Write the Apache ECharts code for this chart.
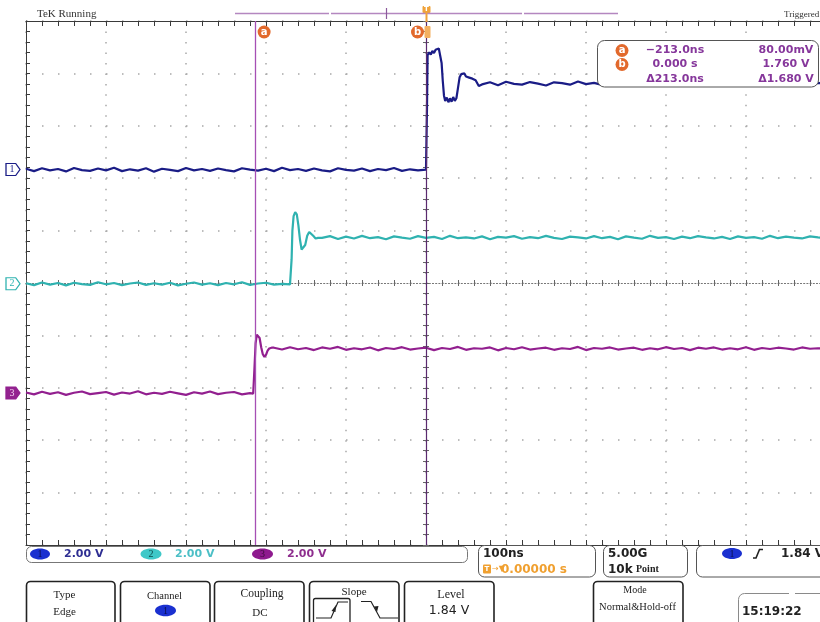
<!DOCTYPE html>
<html><head><meta charset="utf-8">
<script src="https://cdn.jsdelivr.net/npm/echarts@6/dist/echarts.min.js"></script>
<style>html,body{margin:0;padding:0;background:#fff}#c{width:820px;height:622px}</style>
</head><body><div id="c"></div>
<script>
// ---- scales (oscilloscope settings) ----
const SAMPLE_NS = 10;              // spacing of the sampled level segments
const timeMin = -500, timeMax = 500, timeDiv = 100;   // 100 ns/div
const voltMin = -10, voltMax = 10, voltDiv = 2;       // 2.00 V/div
const channelNames = ['1', '2', '3'];
const channelColors = ['#1a1c86', '#2fb2b0', '#921f8f'];
const groundLevels = [4.33, -0.03, -4.2];
const cursorTimes = [-213, 0];
const cursorLabels = ['a', 'b'];

// ---- channel 1 ----
const ch1PreStart = -500;
const ch1PreV = [4.36,4.27,4.38,4.30,4.35,4.26,4.39,4.31,4.28,4.37,
4.30,4.40,4.27,4.34,4.29,4.38,4.25,4.36,4.32,4.27,
4.39,4.30,4.35,4.28,4.37,4.31,4.26,4.38,4.33,4.29,
4.36,4.27,4.40,4.31,4.35,4.28,4.37,4.30,4.26,4.38,
4.32,4.29,4.37,4.27,4.35,4.31,4.39,4.28,4.34,4.30,4.33];
const ch1Edge = [[0.5,4.34],[1.2,6.6],[2,8.7],[4,8.8],[6,8.72],[8,8.86],[10,8.78],[12,8.9],[14,8.84],[16,8.95],[18,8.88],[19.5,8.4],[21,7.7],[22.5,7.15],[24,6.95],[26,7.08],[28,6.9],[30,7.05],[32,6.92],[34,7.1],[36,6.95],[38,7.05],[40,7.45],[42,7.85],[44,7.97],[46,7.92],[48,8.0],[50,7.88],[52,7.95],[54,7.84],[56,7.9],[58,7.8],[60,7.84],[62,7.74],[64,7.68],[66,7.52],[68,7.5]];
const ch1PostStart = 70;
const ch1PostV = [7.58,7.66,7.55,7.68,7.60,7.57,7.67,7.61,7.54,7.66,
7.63,7.57,7.69,7.59,7.64,7.56,7.67,7.60,7.58,7.68,
7.61,7.55,7.66,7.62,7.57,7.69,7.60,7.64,7.56,7.67,
7.59,7.63,7.55,7.66,7.61,7.58,7.68,7.60,7.57,7.65,
7.62,7.58,7.64,7.60];

// ---- channel 2 ----
const ch2PreStart = -500;
const ch2PreV = [-0.01,-0.08,0.02,-0.06,0.00,-0.09,0.01,-0.04,-0.07,0.03,
-0.05,0.00,-0.08,-0.02,0.02,-0.07,-0.01,-0.06,0.01,-0.09,
-0.03,0.02,-0.06,-0.01,-0.08,0.00,-0.05,0.03,-0.07,-0.02,
0.01,-0.06,-0.03,-0.05];
const ch2Edge = [[-169,-0.04],[-168,0.9],[-167,2.0],[-165.5,2.55],[-163.5,2.7],[-161.5,2.62],[-159.5,2.2],[-157.5,1.65],[-155.5,1.28],[-153.5,1.25],[-151,1.45],[-148.5,1.8],[-146,1.95],[-143.5,1.93],[-141,1.8],[-138,1.7],[-135,1.72],[-133,1.76]];
const ch2PostStart = -130;
const ch2PostV = [1.72,1.79,1.68,1.77,1.70,1.80,1.71,1.75,1.67,1.78,
1.73,1.69,1.79,1.72,1.76,1.68,1.80,1.71,1.74,1.70,
1.78,1.67,1.76,1.73,1.79,1.69,1.75,1.71,1.80,1.72,
1.68,1.77,1.74,1.70,1.79,1.71,1.76,1.67,1.78,1.73,
1.69,1.80,1.72,1.75,1.68,1.77,1.71,1.79,1.74,1.70,
1.76,1.68,1.78,1.72,1.75,1.69,1.80,1.71,1.77,1.73,
1.70,1.78,1.74,1.72];

// ---- channel 3 ----
const ch3PreStart = -500;
const ch3PreV = [-4.18,-4.25,-4.15,-4.23,-4.17,-4.27,-4.19,-4.14,-4.24,-4.20,
-4.16,-4.26,-4.18,-4.22,-4.13,-4.25,-4.19,-4.23,-4.15,-4.21,
-4.27,-4.17,-4.22,-4.14,-4.24,-4.19,-4.16,-4.25,-4.20];
const ch3Edge = [[-216,-4.22],[-214.5,-3.3],[-213,-2.3],[-211.5,-1.97],[-210,-1.92],[-208,-2.1],[-206,-2.45],[-204,-2.72],[-202,-2.82],[-200,-2.74],[-198,-2.58],[-196,-2.5],[-193,-2.47]];
const ch3PostStart = -190;
const ch3PostV = [-2.47,-2.54,-2.45,-2.53,-2.48,-2.56,-2.46,-2.51,-2.44,-2.55,
-2.49,-2.53,-2.46,-2.57,-2.48,-2.52,-2.45,-2.54,-2.50,-2.47,
-2.56,-2.48,-2.52,-2.44,-2.55,-2.49,-2.51,-2.46,-2.57,-2.48,
-2.53,-2.45,-2.54,-2.50,-2.47,-2.55,-2.49,-2.52,-2.44,-2.56,
-2.48,-2.51,-2.46,-2.54,-2.50,-2.47,-2.55,-2.49,-2.53,-2.45,
-2.52,-2.48,-2.56,-2.47,-2.51,-2.46,-2.54,-2.49,-2.53,-2.45,
-2.55,-2.48,-2.52,-2.47,-2.50,-2.54,-2.46,-2.51,-2.49,-2.52];

function sampled(start, vals) { return vals.map((v, i) => [start + i * SAMPLE_NS, v]); }
const traces = [
  sampled(ch1PreStart, ch1PreV).concat(ch1Edge, sampled(ch1PostStart, ch1PostV)),
  sampled(ch2PreStart, ch2PreV).concat(ch2Edge, sampled(ch2PostStart, ch2PostV)),
  sampled(ch3PreStart, ch3PreV).concat(ch3Edge, sampled(ch3PostStart, ch3PostV))
];

// ---- styles ----
const FRAME = '#3a3a3a', DOT = '#a8a8a8', ORANGE = '#e2692c', PURPLE_TXT = '#86379b';
const SERIF = '"Liberation Serif", "DejaVu Serif", serif';
const SANS = '"DejaVu Sans", Verdana, sans-serif';

function frameX(pos, split) {
  return {
    type: 'value', min: timeMin, max: timeMax, interval: timeDiv, position: pos,
    axisLine: { show: true, onZero: false, lineStyle: { color: FRAME, width: 1 } },
    axisTick: { show: true, inside: true, length: 5, lineStyle: { color: FRAME } },
    minorTick: { show: true, splitNumber: 5, length: 5, lineStyle: { color: FRAME } },
    axisLabel: { show: false },
    splitLine: { show: split, lineStyle: { color: DOT, width: 1.5, type: [1.5, 8.98] } },
    minorSplitLine: { show: false }
  };
}
function centerX(inside) {
  return {
    type: 'value', min: timeMin, max: timeMax, interval: timeDiv, position: 'bottom',
    axisLine: { show: inside, onZero: true, onZeroAxisIndex: 0, lineStyle: { color: '#777', width: 1, type: [1.2, 2] } },
    axisTick: { show: true, inside: inside, length: 3, lineStyle: { color: '#666' } },
    minorTick: { show: true, splitNumber: 5, length: 3, lineStyle: { color: '#666' } },
    axisLabel: { show: false }, splitLine: { show: false }
  };
}
function centerY(inside) {
  return {
    type: 'value', min: voltMin, max: voltMax, interval: voltDiv, position: 'left',
    axisLine: { show: inside, onZero: true, onZeroAxisIndex: 0, lineStyle: { color: '#777', width: 1, type: [1.2, 2] } },
    axisTick: { show: true, inside: inside, length: 3, lineStyle: { color: '#666' } },
    minorTick: { show: true, splitNumber: 5, length: 3, lineStyle: { color: '#666' } },
    axisLabel: { show: false }, splitLine: { show: false }
  };
}

const G = [];
function txt(x, y, text, font, fill, align) {
  G.push({ type: 'text', x: x, y: y, z: 100, silent: true,
    style: { text: text, font: font, fill: fill, align: align || 'left', verticalAlign: 'middle',
             textAlign: align || 'left', textVerticalAlign: 'middle' } });
}
function rect(x, y, w, h, r, stroke, fill, lw) {
  G.push({ type: 'rect', z: 99, silent: true, shape: { x: x, y: y, width: w, height: h, r: r },
    style: { fill: fill || 'none', stroke: stroke || 'none', lineWidth: lw || 1 } });
}
function ell(cx, cy, rx, ry, fill) {
  G.push({ type: 'ellipse', z: 100, silent: true, shape: { cx: cx, cy: cy, rx: rx, ry: ry }, style: { fill: fill } });
}
function circ(cx, cy, r, fill) {
  G.push({ type: 'circle', z: 100, silent: true, shape: { cx: cx, cy: cy, r: r }, style: { fill: fill } });
}
function pline(points, stroke, lw) {
  G.push({ type: 'polyline', z: 100, silent: true, shape: { points: points }, style: { stroke: stroke, fill: 'none', lineWidth: lw || 1 } });
}
function poly(points, fill) {
  G.push({ type: 'polygon', z: 100, silent: true, shape: { points: points }, style: { fill: fill } });
}

// header
txt(37, 14.5, 'TeK Running', '11px ' + SERIF, '#333');
txt(784, 15, 'Triggered', '9px ' + SERIF, '#333');
pline([[235, 13.5], [329, 13.5]], '#b487c0', 1.6);
pline([[331, 13.5], [522, 13.5]], '#b487c0', 1.6);
pline([[524, 13.5], [618, 13.5]], '#b487c0', 1.6);
pline([[386.5, 8], [386.5, 19]], '#8c5a9c', 1.2);
pline([[426.5, 8], [426.5, 22]], '#f0a33a', 2);
rect(422.5, 6, 8, 7, 1, null, '#f0a33a');
txt(426.5, 9.6, 'T', 'bold 7px ' + SANS, '#fff', 'center');
rect(424.5, 26, 6, 12, 1, null, '#f3b060');

// cursor readout box
rect(597.5, 40.5, 221, 46.5, 7, '#555', '#fff', 1);
circ(622, 50.5, 6.5, ORANGE); txt(622, 50.5, 'a', 'bold 10px ' + SANS, '#fff', 'center');
circ(622, 64.5, 6.5, ORANGE); txt(622, 64, 'b', 'bold 10px ' + SANS, '#fff', 'center');
const RF = 'bold 11px ' + SANS;
txt(675, 50.5, '\u2212213.0ns', RF, PURPLE_TXT, 'center');
txt(675, 64.5, '0.000 s', RF, PURPLE_TXT, 'center');
txt(675, 79.5, '\u0394213.0ns', RF, PURPLE_TXT, 'center');
txt(786, 50.5, '80.00mV', RF, PURPLE_TXT, 'center');
txt(786, 64.5, '1.760 V', RF, PURPLE_TXT, 'center');
txt(786, 79.5, '\u03941.680 V', RF, PURPLE_TXT, 'center');

// status row
const SF = 'bold 11px ' + SANS;
rect(26.5, 546.5, 441, 16, 5, '#777', '#fff', 1);
ell(40, 554, 10, 5.5, '#1a30d0'); txt(40, 554.5, '1', '10px ' + SERIF, '#0a1050', 'center');
txt(64, 554.5, '2.00 V', SF, '#2e2e92');
ell(151, 554, 10.5, 5.5, '#3ec8c8'); txt(151, 554.5, '2', '10px ' + SERIF, '#0c4a4a', 'center');
txt(175, 554.5, '2.00 V', SF, '#4cbfc6');
ell(262.5, 554, 10.5, 5.5, '#8e1a8e'); txt(262.5, 554.5, '3', '10px ' + SERIF, '#3a0a3a', 'center');
txt(287, 554.5, '2.00 V', SF, '#8e2e8e');

const BF = 'bold 12px ' + SANS;
rect(478.5, 545.5, 117, 31.5, 6, '#555', '#fff', 1);
txt(483, 553.5, '100ns', BF, '#222');
rect(483, 564.5, 8, 9, 1, null, '#f0a030');
txt(487, 569, 'T', 'bold 7px ' + SANS, '#fff', 'center');
txt(492, 569, '\u2192\u25BC', '8px ' + SANS, '#f0a030');
txt(501, 569.5, '0.00000 s', BF, '#f0a030');

rect(603.5, 545.5, 84, 31.5, 6, '#555', '#fff', 1);
txt(608, 553.5, '5.00G', BF, '#222');
txt(608, 569.5, '10k', BF, '#222');
txt(636, 569.5, 'Point', 'bold 10px ' + SERIF, '#222');

rect(696.5, 545.5, 130, 31.5, 6, '#555', '#fff', 1);
ell(732, 553.5, 10, 5.5, '#1a30d0'); txt(732, 554, '1', '10px ' + SERIF, '#0a1050', 'center');
pline([[753, 558], [756, 558], [759.5, 549.5], [763, 549.5]], '#222', 1.6);
txt(781, 553.5, '1.84 V', BF, '#222');

// menu row
const MB = '#222';
rect(26.5, 581.5, 88.5, 45, 4, MB, '#fff', 1.6);
txt(64.5, 595, 'Type', '11px ' + SERIF, '#222', 'center');
txt(64.5, 612, 'Edge', '11px ' + SERIF, '#222', 'center');
rect(120.5, 581.5, 89.5, 45, 4, MB, '#fff', 1.6);
txt(164.5, 596.5, 'Channel', '10.5px ' + SERIF, '#222', 'center');
ell(165.5, 610.5, 10.5, 5.8, '#1a30d0'); txt(165.5, 611, '1', '10px ' + SERIF, '#0a1050', 'center');
rect(214.5, 581.5, 89.5, 45, 4, MB, '#fff', 1.6);
txt(262, 593.5, 'Coupling', '11.5px ' + SERIF, '#222', 'center');
txt(260, 613, 'DC', '11px ' + SERIF, '#222', 'center');
rect(309.5, 581.5, 89.5, 45, 4, MB, '#fff', 1.6);
txt(354, 592, 'Slope', '11px ' + SERIF, '#222', 'center');
rect(313.5, 598.5, 36.5, 28, 2, MB, '#fff', 1.3);
pline([[316, 618], [331, 618], [338, 602], [348, 602]], '#222', 1.2);
poly([[336, 605], [331.5, 611], [335.5, 612]], '#222');
pline([[361, 601.5], [371, 601.5], [380, 618], [398, 618]], '#222', 1.2);
poly([[377, 612], [374, 606.5], [378.5, 606]], '#222');
rect(404.5, 581.5, 89.5, 45, 4, MB, '#fff', 1.6);
txt(451, 595, 'Level', '12px ' + SERIF, '#222', 'center');
txt(449, 610.5, '1.84 V', '12.5px ' + SANS, '#222', 'center');
rect(593.5, 581.5, 89.5, 45, 4, MB, '#fff', 1.6);
txt(635, 590, 'Mode', '10px ' + SERIF, '#222', 'center');
txt(637.5, 607.5, 'Normal&Hold-off', '10.5px ' + SERIF, '#222', 'center');
rect(738.5, 593.5, 90, 35, 6, '#8a8a8a', '#fff', 1);
rect(789, 592, 6, 3, 0, null, '#fff');
txt(742, 612, '15:19:22', BF, '#222');

const groundSymbol = 'path://M0,0 L9,0 L13,5 L9,10 L0,10 Z';
const markerFill = ['#ffffff', '#ffffff', '#93228f'];
const markerText = ['#1b1f8c', '#2fb4b2', '#f6d6f4'];

const series = traces.map((data, i) => ({
  type: 'line', name: 'CH' + channelNames[i], data: data, xAxisIndex: 0, yAxisIndex: 0,
  showSymbol: false, symbol: 'none', clip: true, z: 3, animation: false,
  lineStyle: { color: channelColors[i], width: 2.2 },
  markPoint: {
    silent: true, animation: false, symbol: groundSymbol, symbolSize: [14, 12], symbolOffset: [-13, 0],
    itemStyle: { color: markerFill[i], borderColor: channelColors[i], borderWidth: 1.2 },
    label: { show: true, formatter: channelNames[i], color: markerText[i], fontSize: 10, fontFamily: SERIF, offset: [-1, 0] },
    data: [{ coord: [timeMin, groundLevels[i]] }]
  }
}));
series.push({
  type: 'line', name: 'cursors', data: cursorTimes.map(t => [t, voltMax]), xAxisIndex: 0, yAxisIndex: 0,
  showSymbol: false, symbol: 'none', lineStyle: { opacity: 0 }, z: 4, animation: false,
  markLine: {
    silent: true, animation: false, symbol: ['none', 'none'], label: { show: false },
    data: [
      { xAxis: cursorTimes[0], lineStyle: { color: '#a64fb4', width: 1.3, type: 'solid' } },
      { xAxis: cursorTimes[1], lineStyle: { color: '#5a2a6e', width: 1.2, type: 'solid' } }
    ]
  },
  markPoint: {
    silent: true, animation: false, symbol: 'circle', symbolSize: 13,
    itemStyle: { color: ORANGE },
    label: { show: true, color: '#fff', fontSize: 10, fontWeight: 'bold', fontFamily: SANS },
    data: cursorTimes.map((t, i) => ({ coord: [t, voltMax], symbolOffset: [i === 0 ? 8.5 : -8.5, 11],
      label: { formatter: cursorLabels[i] } }))
  }
});

const chart = echarts.init(document.getElementById('c'), null, { renderer: 'canvas' });
chart.setOption({
  animation: false,
  backgroundColor: '#ffffff',
  grid: { left: 26, right: -6, top: 21, bottom: 77, outerBoundsMode: 'none', containLabel: false },
  xAxis: [frameX('bottom', true), frameX('top', false), centerX(true), centerX(false)],
  yAxis: [
    {
      type: 'value', min: voltMin, max: voltMax, interval: voltDiv, position: 'left',
      axisLine: { show: true, onZero: false, lineStyle: { color: FRAME, width: 1 } },
      axisTick: { show: true, inside: true, length: 4, lineStyle: { color: FRAME } },
      minorTick: { show: true, splitNumber: 5, length: 4, lineStyle: { color: FRAME } },
      axisLabel: { show: false },
      splitLine: { show: true, lineStyle: { color: DOT, width: 1.5, type: [1.5, 14.5] } }
    },
    centerY(true), centerY(false)
  ],
  series: series,
  graphic: { elements: G }
});
</script></body></html>
